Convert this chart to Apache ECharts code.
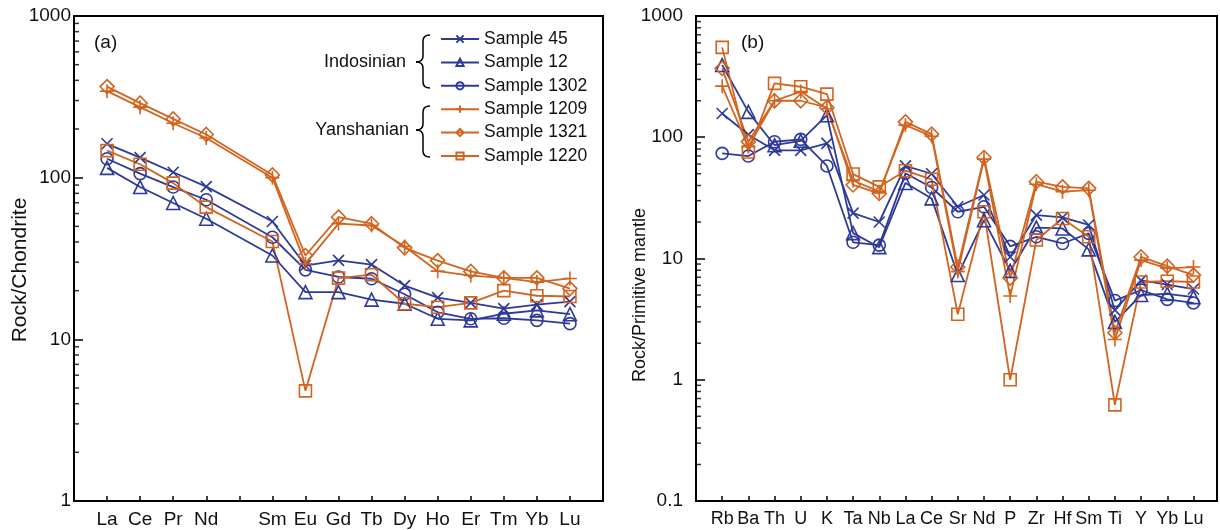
<!DOCTYPE html>
<html>
<head>
<meta charset="utf-8">
<script src="https://cdn.jsdelivr.net/npm/echarts@6/dist/echarts.min.js"></script>
<style>
html,body{margin:0;padding:0;background:#fff;}
#chart{width:1220px;height:530px;}
</style>
</head>
<body>
<div id="chart"></div>
<script>
// ---------- data ----------
const reeElements = ['La','Ce','Pr','Nd','Pm','Sm','Eu','Gd','Tb','Dy','Ho','Er','Tm','Yb','Lu'];
const spiderElements = ['Rb','Ba','Th','U','K','Ta','Nb','La','Ce','Sr','Nd','P','Zr','Hf','Sm','Ti','Y','Yb','Lu'];
const sampleNames = ['Sample 45','Sample 12','Sample 1302','Sample 1209','Sample 1321','Sample 1220'];
const groupLabels = ['Indosinian','Yanshanian'];

// Chondrite-normalised REE (Pm = null)
const ree45   = [162,133,108,88,null,53.6,28.6,30.8,29,21.5,18.1,16.8,15.5,16.4,17.1];
const ree12   = [115,87.5,69.7,55.7,null,33,19.6,19.6,17.6,16.6,13.4,13.1,14.4,15.1,14.3];
const ree1302 = [131,106,87.5,73,null,42.8,26.9,24.3,23.7,19,14.7,13.4,13.5,13.1,12.5];
const ree1209 = [343,273,217,176,null,100,29.3,52,50.6,37.5,26.4,24.8,24,22.6,23.8];
const ree1321 = [366,289,231,185,null,104,33,57,51.9,36.8,30.7,26.3,24,24,20.6];
const ree1220 = [147,121,92.5,65.7,null,40.3,4.8,23.9,25.1,16.6,15.8,16.8,20,18.6,18.4];

// Primitive-mantle-normalised trace elements
const pm45   = [157,105,78,78,89,23.7,20,58,50,26.7,33.4,10.3,22.8,21.8,18.9,3.75,6.6,6.1,5.6];
const pm12   = [394,162,86,93.5,152,16.2,12.4,42,31.3,7.3,20.7,7.9,18,17.7,11.9,3.0,5.0,5.1,4.8];
const pm1302 = [73.6,70,91.8,96,58,13.6,12.9,50.4,38.5,24.3,26.7,12.6,15.1,13.3,16.1,4.5,5.5,4.6,4.3];
const pm1209 = [264,83.5,200,238,172,44,35.6,126,102,7.8,66,4.9,41,35.6,36.6,2.15,9.7,8.3,8.5];
const pm1321 = [370,92,200,200,176,40.4,34.4,134,106,8.5,68,6.9,43,39,37.9,2.44,10.3,8.65,7.3];
const pm1220 = [551,75.5,278,261,227,49.7,39,53,45,3.47,24.3,1.0,14.2,21.4,15.1,0.62,6.4,6.5,6.4];

// ---------- styling ----------
const BLUE = '#2e3a98', ORANGE = '#d2641f';
const FONT = 'Liberation Sans, Arial, sans-serif';
const styles = [
  {color: BLUE,   symbol: 'path://M0,0L10,10M10,0L0,10', size: 11},
  {color: BLUE,   symbol: 'triangle', size: 13},
  {color: BLUE,   symbol: 'circle',   size: 12},
  {color: ORANGE, symbol: 'path://M5,0L5,10M0,5L10,5', size: 14},
  {color: ORANGE, symbol: 'diamond',  size: 14},
  {color: ORANGE, symbol: 'rect',     size: 12}
];
const reeSets = [ree45, ree12, ree1302, ree1209, ree1321, ree1220];
const pmSets  = [pm45, pm12, pm1302, pm1209, pm1321, pm1220];

function minorTicks(lo, hi){
  const out = [];
  for (let d = lo; d < hi - 1e-9; d *= 10) for (let k = 2; k <= 9; k++) out.push(+(d*k).toPrecision(3));
  return out;
}

function mkSeries(name, values, idx, st){
  const data = [];
  values.forEach((v,i)=>{ if (v !== null) data.push([i+1, v]); });
  return {
    type:'line', name, xAxisIndex: idx, yAxisIndex: idx, data,
    symbol: st.symbol, symbolSize: st.size, showSymbol: true,
    lineStyle: {color: st.color, width: 1.8},
    itemStyle: {color: 'rgba(255,255,255,0)', borderColor: st.color, borderWidth: 1.6},
    emphasis: {disabled: true}, z: 3
  };
}
function tickSeries(idx, vals){
  return {
    type:'scatter', xAxisIndex: idx, yAxisIndex: idx, silent: true,
    data: vals.map(v=>[0,v]), symbol:'rect', symbolSize:[5,1.5], symbolOffset:[2.5,0],
    itemStyle:{color:'#000'}, z: 2
  };
}

const series = [];
sampleNames.forEach((n,i)=>series.push(mkSeries(n, reeSets[i], 0, styles[i])));
sampleNames.forEach((n,i)=>series.push(mkSeries(n, pmSets[i], 1, styles[i])));
series.push(tickSeries(0, minorTicks(1,1000)));
series.push(tickSeries(1, minorTicks(0.1,1000)));

const axisLine = {show:true, lineStyle:{color:'#000', width:2}};
function xAxis(idx, max, names, fs){
  return {
    type:'value', gridIndex: idx, min:0, max, interval:1,
    axisLine, splitLine:{show:false},
    axisTick:{show:true, inside:true, length:5, lineStyle:{color:'#000', width:1.5}},
    axisLabel:{
      color:'#111', fontSize: fs, fontFamily: FONT, margin: 9,
      formatter: v => { const n = names[v-1]; return (Number.isInteger(v) && n && n !== 'Pm') ? n : ''; }
    }
  };
}
function yAxis(idx, min, max, split, margin){
  return {
    type:'log', gridIndex: idx, logBase:10, min, max, splitNumber: split,
    axisLine, splitLine:{show:false},
    axisTick:{show:true, inside:true, length:9, lineStyle:{color:'#000', width:1.5}},
    axisLabel:{color:'#111', fontSize:19, fontFamily: FONT, margin,
      formatter: v => String(+(+v).toPrecision(3))}
  };
}

function brace(y0, y1, ymid, xr, xm, xl){
  const st = {stroke:'#000', lineWidth:1.5, fill:null};
  return [
    {type:'bezierCurve', shape:{x1:xr, y1:y0, x2:xm, y2:y0+6, cpx1:xm, cpy1:y0}, style:st},
    {type:'line', shape:{x1:xm, y1:y0+6, x2:xm, y2:ymid-6}, style:st},
    {type:'bezierCurve', shape:{x1:xm, y1:ymid-6, x2:xl, y2:ymid, cpx1:xm, cpy1:ymid}, style:st},
    {type:'bezierCurve', shape:{x1:xl, y1:ymid, x2:xm, y2:ymid+6, cpx1:xm, cpy1:ymid}, style:st},
    {type:'line', shape:{x1:xm, y1:ymid+6, x2:xm, y2:y1-6}, style:st},
    {type:'bezierCurve', shape:{x1:xm, y1:y1-6, x2:xr, y2:y1, cpx1:xm, cpy1:y1}, style:st}
  ];
}

const option = {
  animation: false,
  backgroundColor: '#fff',
  grid: [
    {left:74, top:16, width:529, height:485, show:true, borderColor:'#000', borderWidth:2, backgroundColor:'transparent'},
    {left:696, top:16, width:523, height:485, show:true, borderColor:'#000', borderWidth:2, backgroundColor:'transparent'}
  ],
  xAxis: [xAxis(0, 16, reeElements, 19), xAxis(1, 19.9, spiderElements, 18)],
  yAxis: [yAxis(0, 1, 1000, 3, 3), yAxis(1, 0.1, 1000, 4, 13)],
  legend: {
    data: sampleNames, orient:'vertical', left:440, top:29, padding:0,
    itemWidth:38, itemHeight:9, itemGap:3.4,
    textStyle:{fontSize:17.5, fontFamily: FONT, color:'#111', lineHeight:20},
    selectedMode:false
  },
  graphic: [
    {type:'text', x:94, y:43, style:{text:'(a)', fontSize:19, fontFamily:FONT, fill:'#111', verticalAlign:'middle'}},
    {type:'text', x:741, y:43, style:{text:'(b)', fontSize:19, fontFamily:FONT, fill:'#111', verticalAlign:'middle'}},
    {type:'text', x:406, y:62, style:{text:groupLabels[0], fontSize:18, fontFamily:FONT, fill:'#111', align:'right', verticalAlign:'middle'}},
    {type:'text', x:409, y:130, style:{text:groupLabels[1], fontSize:18, fontFamily:FONT, fill:'#111', align:'right', verticalAlign:'middle'}},
    {type:'text', x:20, y:270, rotation:Math.PI/2, style:{text:'Rock/Chondrite', fontSize:21, fontFamily:FONT, fill:'#111', align:'center', verticalAlign:'middle'}},
    {type:'text', x:640, y:295, rotation:Math.PI/2, style:{text:'Rock/Primitive mantle', fontSize:18, fontFamily:FONT, fill:'#111', align:'center', verticalAlign:'middle'}}
  ].concat(brace(35, 88, 62, 430, 423, 416), brace(106, 157, 130, 430, 423, 416)),
  series
};
const chart = echarts.init(document.getElementById('chart'), null, {renderer:'canvas'});
chart.setOption(option);
</script>
</body>
</html>
